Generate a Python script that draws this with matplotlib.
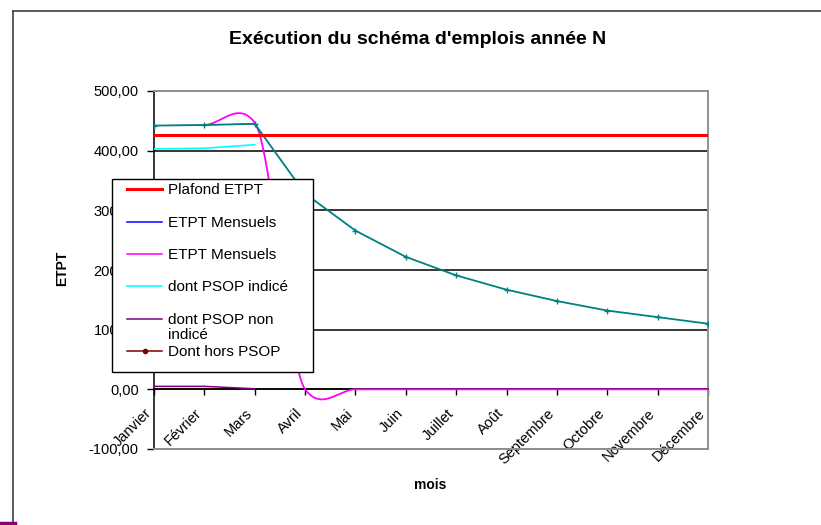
import numpy as np
import matplotlib
matplotlib.use('Agg')
import matplotlib.pyplot as plt
from matplotlib.lines import Line2D
from matplotlib.patches import Rectangle
from matplotlib.ticker import FuncFormatter, MultipleLocator

nan = np.nan
months = ['Janvier', 'Février', 'Mars', 'Avril', 'Mai', 'Juin', 'Juillet',
          'Août', 'Septembre', 'Octobre', 'Novembre', 'Décembre']
plafond_etpt = [427] * 12
etpt_total = [442, 443, 445, 328, 266, 222, 191, 167, 148, 132, 121, 110]
etpt_mensuels_bleu = [442, 443, 445, nan, nan, nan, nan, nan, nan, nan, nan, nan]
etpt_mensuels_rose = [nan, 443, 447, 0, 0, 0, 0, 0, 0, 0, 0, 0]
psop_indice = [403, 404, 410, nan, nan, nan, nan, nan, nan, nan, nan, nan]
psop_non_indice = [5, 5, 1, nan, nan, nan, nan, nan, nan, nan, nan, nan]
hors_psop = [0, 0, 0, nan, nan, nan, nan, nan, nan, nan, nan, nan]

W, H = 821, 525
plt.rcParams['font.family'] = ['Liberation Sans', 'DejaVu Sans']

fig = plt.figure(figsize=(W / 100, H / 100), dpi=100)
L, R, T, B = 154, 708, 91, 449
ax = fig.add_axes([L / W, 1 - B / H, (R - L) / W, (B - T) / H])

x = np.arange(len(months))


def smooth(xv, yv, k=0.51, n=40):
    yv = np.asarray(yv, float)
    xs, ys = [], []
    for i in range(len(yv) - 1):
        if np.isnan(yv[i]) or np.isnan(yv[i + 1]):
            continue

        def tang(j):
            prev_ok = j - 1 >= 0 and not np.isnan(yv[j - 1])
            next_ok = j + 1 < len(yv) and not np.isnan(yv[j + 1])
            if prev_ok and next_ok:
                return k * (yv[j + 1] - yv[j - 1]) / 2
            if next_ok:
                return k * (yv[j + 1] - yv[j])
            return k * (yv[j] - yv[j - 1])
        m0, m1 = tang(i), tang(i + 1)
        t = np.linspace(0, 1, n)
        h00 = 2 * t**3 - 3 * t**2 + 1
        h10 = t**3 - 2 * t**2 + t
        h01 = -2 * t**3 + 3 * t**2
        h11 = t**3 - t**2
        xs.append(xv[i] + t * (xv[i + 1] - xv[i]))
        ys.append(h00 * yv[i] + h10 * m0 + h01 * yv[i + 1] + h11 * m1)
    return np.concatenate(xs), np.concatenate(ys)


RED, BLUE, MAG, CYAN, PURP, MAROON, TEAL = '#FF0000', '#0000FF', '#FF00FF', '#00FFFF', '#800080', '#800000', '#008080'

ax.plot(x, hors_psop, color=MAROON, lw=1.1, zorder=2)
ax.plot(x, psop_non_indice, color=PURP, lw=1.1, zorder=3)
ax.plot(x, psop_indice, color=CYAN, lw=1.2, zorder=3)
ax.plot(x, etpt_mensuels_bleu, color=BLUE, lw=0.6, zorder=3)
sx, sy = smooth(x, etpt_mensuels_rose)
ax.plot(sx, sy, color=MAG, lw=1.3, zorder=3.2)
ax.plot(x, etpt_total, color=TEAL, lw=1.3, marker='+', ms=4, mew=1.0, zorder=3.4)
ax.plot(x, plafond_etpt, color=RED, lw=2.2, zorder=3.6)

ax.set_xlim(0, 11)
ax.set_ylim(-100, 500)
ax.yaxis.set_major_locator(MultipleLocator(100))
ax.yaxis.set_major_formatter(FuncFormatter(lambda v, p: f"{v:.2f}".replace('.', ',')))
ax.set_axisbelow(True)
ax.yaxis.grid(True, color='black', lw=1.1)

for s in ['top', 'right']:
    ax.spines[s].set_color('#909090')
    ax.spines[s].set_linewidth(1.4)
ax.spines['left'].set_color('black')
ax.spines['left'].set_linewidth(1.1)
ax.spines['bottom'].set_position(('data', 0))
ax.spines['bottom'].set_color('black')
ax.spines['bottom'].set_linewidth(1.1)
ax.spines['bottom'].set_zorder(2.5)
ax.axhline(-100, color='#909090', lw=1.4, clip_on=False, zorder=2.6)

ax.set_xticks(x)
ax.set_xticklabels(months, rotation=45, ha='right', fontsize=10.5)
ax.tick_params(axis='x', direction='out', length=4, width=1, pad=8)
ax.tick_params(axis='y', direction='out', length=5, width=1, pad=6, labelsize=10.5)


def P(px, py):
    return (px / W, 1 - py / H)


fig.text(*P(418, 40), "Exécution du schéma d'emplois année N", ha='center', va='center',
         fontsize=14, fontweight='bold')
fig.text(*P(62, 268), 'ETPT', ha='center', va='center', rotation=90, fontsize=10, fontweight='bold')
fig.text(*P(430, 485), 'mois', ha='center', va='center', fontsize=10, fontweight='bold')

# manual legend
lx0, ly0, lx1, ly1 = 112, 179, 313, 372
fig.patches.append(Rectangle(P(lx0, ly1), (lx1 - lx0) / W, (ly1 - ly0) / H,
                             transform=fig.transFigure, facecolor='white',
                             edgecolor='black', lw=1.0, zorder=5))
entries = [
    ('Plafond ETPT', RED, 2.2, None, 189),
    ('ETPT Mensuels', BLUE, 1.1, None, 222),
    ('ETPT Mensuels', MAG, 1.1, None, 254),
    ('dont PSOP indicé', CYAN, 1.1, None, 286),
    ('dont PSOP non\nindicé', PURP, 1.1, None, 319),
    ('Dont hors PSOP', MAROON, 1.1, 'o', 351),
]
for label, col, lw, mk, yy in entries:
    xa, ya = P(127, yy)
    xb, _ = P(162, yy)
    fig.lines.append(Line2D([xa, xb], [ya, ya], transform=fig.transFigure, color=col, lw=lw,
                            zorder=6))
    if mk:
        xm, _ = P(144.5, yy)
        fig.lines.append(Line2D([xm], [ya], transform=fig.transFigure, color=col, marker=mk,
                                ms=3, zorder=6))
    fig.text(*P(168, yy - 6), label, ha='left', va='top', fontsize=11, zorder=7,
             linespacing=1.05)

# outer frame of the original chart object
fig.lines.append(Line2D([13 / W, 13 / W], [1 - 11 / H, 1 - 522 / H], transform=fig.transFigure,
                        color='#404040', lw=1.2))
fig.lines.append(Line2D([13 / W, 1], [1 - 11 / H, 1 - 11 / H], transform=fig.transFigure,
                        color='#404040', lw=1.2))
fig.lines.append(Line2D([0, 15 / W], [1 - 523 / H, 1 - 523 / H], transform=fig.transFigure,
                        color=PURP, lw=2.5))

fig.savefig('out.png', dpi=100)
